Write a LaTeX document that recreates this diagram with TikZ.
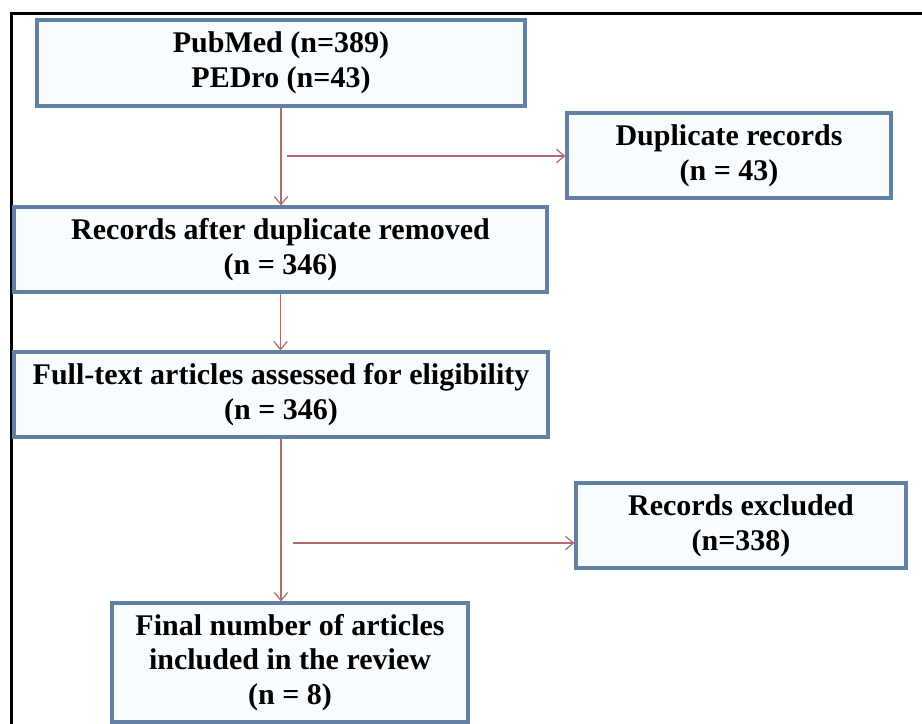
\documentclass[tikz,border=0pt]{standalone}
\usepackage{fontspec}
\setmainfont{Liberation Serif}
\usetikzlibrary{arrows.meta}
\definecolor{boxline}{RGB}{98,128,163}
\definecolor{boxfill}{RGB}{248,252,254}
\definecolor{arrowc}{RGB}{178,108,108}
\tikzset{
  box/.style={draw=boxline, line width=2.4pt, fill=boxfill, inner sep=0pt,
    align=center, font=\fontsize{22.5pt}{26pt}\selectfont\bfseries},
  arr/.style={draw=arrowc, line width=0.9pt, -{Straight Barb[length=6pt,width=10pt]}},
}
\begin{document}
\begin{tikzpicture}[x=0.75pt,y=-0.75pt]
\useasboundingbox (0,0) rectangle (922,724);
\fill[white] (0,0) rectangle (922,724);
% outer frame (only left and top edges visible)
\draw[black, line width=2.3pt] (11.5,724) -- (11.5,13.5) -- (922,13.5);

\node[box, minimum width=366pt, minimum height=64.5pt] (b1) at (281,63)
  {PubMed (n=389)\\PEDro (n=43)};
\node[box, minimum width=243pt, minimum height=63.75pt] (dup) at (729,155.5)
  {Duplicate records\\(n = 43)};
\node[box, minimum width=399.75pt, minimum height=63.75pt] (b2) at (280.5,249.5)
  {Records after duplicate removed\\(n = 346)};
\node[box, minimum width=400.5pt, minimum height=63.75pt] (b3) at (281,394.5)
  {Full-text articles assessed for eligibility\\(n = 346)};
\node[box, minimum width=247.5pt, minimum height=63.75pt] (excl) at (741,525.5)
  {Records excluded\\(n=338)};
\node[box, minimum width=267pt, minimum height=89.25pt] (b5) at (290,662.5)
  {Final number of articles\\included in the review\\(n = 8)};

\coordinate (j1) at (287,156);
\coordinate (j2) at (293,543);

\draw[arr] (b1.south) -- (b1.south |- b2.north);
\draw[arr] (j1) -- (j1 -| dup.west);
\draw[arr] (b2.south) -- (b2.south |- b3.north);
\draw[arr] (b3.south) -- (b3.south |- b5.north);
\draw[arr] (j2) -- (j2 -| excl.west);
\end{tikzpicture}
\end{document}
